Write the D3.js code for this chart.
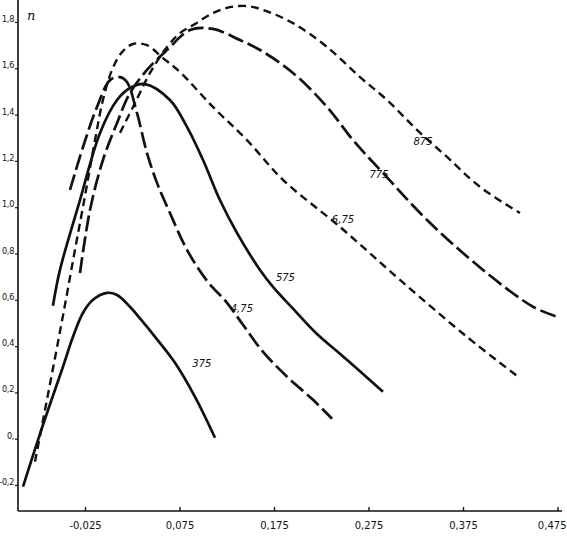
<!DOCTYPE html>
<html lang="en">

<head>
    <meta charset="utf-8">
    <script src='https://d3js.org/d3.v7.min.js'></script>
    <style>
        body { margin: 0; background: #fff; }
        text { font-family: "DejaVu Sans", sans-serif; fill: #111; }
    </style>
</head>

<body>
</body>

<script>

    // curve names as written on the chart
    const labels = ["375", "4,75", "575", "6,75", "775", "875"];
    const styles = ["solid", "long", "solid", "short", "long", "short"];

    // x values (h) and n values
    const x375 = [-0.0906, -0.0705, -0.0483, -0.0377, -0.0271, -0.0165, -0.0017, 0.0089, 0.0226, 0.0343, 0.0491, 0.0702, 0.0914, 0.1126];
    const n375 = [-0.207, 0.047, 0.311, 0.440, 0.544, 0.600, 0.630, 0.621, 0.570, 0.514, 0.440, 0.328, 0.181, 0.004];

    const x475 = [-0.0409, -0.0271, -0.0123, 0.0015, 0.0120, 0.0194, 0.0300, 0.0406, 0.0512, 0.0649, 0.0829, 0.1041, 0.1253, 0.1422, 0.1634, 0.1888, 0.2163, 0.2364];
    const n475 = [1.075, 1.260, 1.433, 1.549, 1.562, 1.541, 1.407, 1.234, 1.105, 0.975, 0.816, 0.682, 0.587, 0.492, 0.375, 0.268, 0.168, 0.086];

    const x575 = [-0.0589, -0.0515, -0.0303, -0.0091, 0.0089, 0.0226, 0.0385, 0.0649, 0.0829, 0.0999, 0.1178, 0.1358, 0.1602, 0.1739, 0.1951, 0.2205, 0.2448, 0.2903];
    const n575 = [0.574, 0.729, 1.031, 1.321, 1.463, 1.515, 1.532, 1.463, 1.347, 1.204, 1.031, 0.889, 0.729, 0.656, 0.562, 0.452, 0.367, 0.203];

    const x675 = [-0.0779, -0.0673, -0.0567, -0.0462, -0.0356, -0.0250, -0.0144, -0.0060, 0.0036, 0.0142, 0.0258, 0.0406, 0.0575, 0.0755, 0.1104, 0.1464, 0.1845, 0.2448, 0.3083, 0.3792, 0.4332];
    const n675 = [-0.099, 0.125, 0.350, 0.578, 0.816, 1.049, 1.290, 1.463, 1.593, 1.670, 1.705, 1.700, 1.644, 1.584, 1.433, 1.290, 1.118, 0.915, 0.686, 0.440, 0.268];

    const x775 = [-0.0303, -0.0197, -0.0060, 0.0089, 0.0226, 0.0406, 0.0618, 0.0861, 0.1104, 0.1390, 0.1602, 0.1951, 0.2311, 0.2586, 0.2903, 0.3369, 0.3962, 0.4491, 0.4745];
    const n775 = [0.716, 0.988, 1.204, 1.364, 1.493, 1.593, 1.679, 1.765, 1.770, 1.722, 1.679, 1.580, 1.433, 1.290, 1.148, 0.945, 0.729, 0.570, 0.527];

    const x875 = [0.0120, 0.0279, 0.0438, 0.0618, 0.0755, 0.0914, 0.1104, 0.1284, 0.1464, 0.1634, 0.1951, 0.2311, 0.2660, 0.2946, 0.3263, 0.3581, 0.3929, 0.4353];
    const n875 = [1.321, 1.450, 1.580, 1.692, 1.752, 1.791, 1.839, 1.864, 1.869, 1.852, 1.795, 1.692, 1.562, 1.463, 1.334, 1.217, 1.088, 0.975];

    // where each curve name sits (data coords)
    const labelX = [0.0987, 0.1410, 0.1871, 0.2480, 0.2861, 0.3327];
    const labelN = [0.311, 0.546, 0.680, 0.930, 1.127, 1.269];

    // axis ticks
    const xTicks = [-0.025, 0.075, 0.175, 0.275, 0.375, 0.475];
    const xTickLabels = ["-0,025", "0,075", "0,175", "0,275", "0,375", "0,475"];
    const yTicks = [-0.2, 0, 0.2, 0.4, 0.6, 0.8, 1.0, 1.2, 1.4, 1.6, 1.8];
    const yTickLabels = ["-0,2", "0,", "0,2", "0,4", "0,6", "0,8", "1,0", "1,2", "1,4", "1,6", "1,8"];

    const width = 567;
    const height = 539;
    const frame = { left: 18, right: 562, top: 0, bottom: 511 };

    const xs = [x375, x475, x575, x675, x775, x875];
    const ns = [n375, n475, n575, n675, n775, n875];

    var x = d3.scaleLinear()
                .domain([-0.025, 0.375])
                .range([85, 463]);

    var y = d3.scaleLinear()
                .domain([-0.2, 1.8])
                .range([485, 22]);

    var svg = d3.select("body")
                    .append("svg")
                    .attr("width", width)
                    .attr("height", height);

    // axis lines
    svg.append("line")
        .attr("x1", frame.left).attr("x2", frame.left)
        .attr("y1", frame.top).attr("y2", frame.bottom)
        .attr("stroke", "#111").attr("stroke-width", 1.6);

    svg.append("line")
        .attr("x1", frame.left).attr("x2", frame.right)
        .attr("y1", frame.bottom).attr("y2", frame.bottom)
        .attr("stroke", "#111").attr("stroke-width", 1.6);

    var xAxis = d3.axisBottom(x)
                    .tickValues(xTicks)
                    .tickSizeInner(-4)
                    .tickSizeOuter(0)
                    .tickPadding(11)
                    .tickFormat(function (d, i) { return xTickLabels[i]; });

    var gx = svg.append("g")
                .attr("transform", "translate(0," + frame.bottom + ")")
                .call(xAxis);
    gx.select(".domain").remove();
    gx.selectAll("line").attr("stroke", "#111").attr("stroke-width", 1.4);
    gx.selectAll("text").style("font-size", "10px").attr("fill", "#111");
    // the last label sits against the right edge
    gx.selectAll("text")
        .filter(function (d, i) { return i === xTicks.length - 1; })
        .attr("text-anchor", "end")
        .attr("x", width - 1 - x(xTicks[xTicks.length - 1]));

    var yAxis = d3.axisLeft(y)
                    .tickValues(yTicks)
                    .tickSize(3)
                    .tickPadding(1)
                    .tickFormat(function (d, i) { return yTickLabels[i]; });

    var gy = svg.append("g")
                .attr("transform", "translate(" + frame.left + ",0)")
                .call(yAxis);
    gy.select(".domain").remove();
    gy.selectAll("line").attr("stroke", "#111").attr("stroke-width", 1.2);
    gy.selectAll("text")
        .style("font-family", "'DejaVu Sans Condensed', 'DejaVu Sans', sans-serif")
        .style("font-size", "9px")
        .style("letter-spacing", "-0.3px")
        .attr("dy", "-0.05em")
        .attr("fill", "#111");

    svg.append("text")
        .attr("x", frame.left + 9)
        .attr("y", 20)
        .style("font-family", "DejaVu Serif, serif")
        .style("font-style", "italic")
        .style("font-size", "13px")
        .text("n");

    var line = d3.line()
                .x(function (d) { return x(d[0]); })
                .y(function (d) { return y(d[1]); })
                .curve(d3.curveCatmullRom.alpha(0.5));

    var dashes = { solid: null, long: "16,5", short: "8,5" };

    labels.forEach(function (name, k) {
        var pts = xs[k].map(function (v, i) { return [v, ns[k][i]]; });

        svg.append("path")
            .datum(pts)
            .attr("d", line)
            .attr("fill", "none")
            .attr("stroke", "#111")
            .attr("stroke-width", styles[k] === "short" ? 2.4 : 2.7)
            .attr("stroke-linecap", "butt")
            .attr("stroke-dasharray", dashes[styles[k]]);

        svg.append("text")
            .attr("x", x(labelX[k]))
            .attr("y", y(labelN[k]))
            .attr("text-anchor", "middle")
            .style("font-size", "10px")
            .style("font-style", "italic")
            .text(name);
    });

</script>

</html>
